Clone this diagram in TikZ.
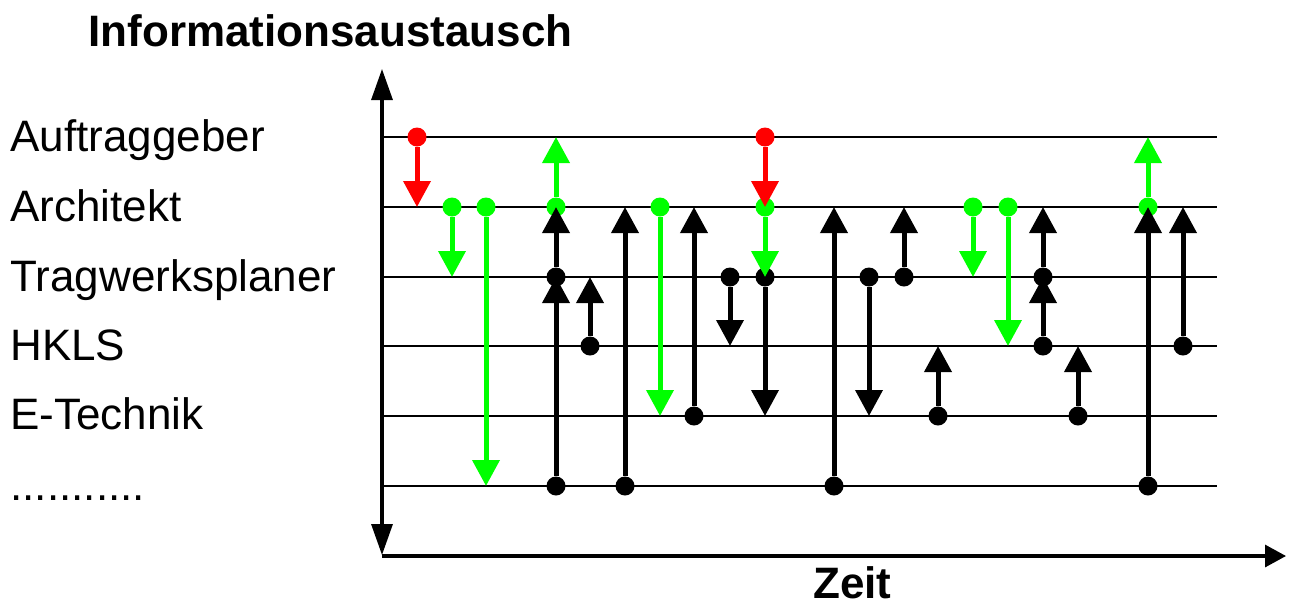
\documentclass[tikz,border=0pt]{standalone}
\usepackage{fontspec}
\setmainfont{Liberation Sans}
\usetikzlibrary{arrows.meta}
\definecolor{msggreen}{RGB}{0,255,0}
\definecolor{msgred}{RGB}{255,0,0}

\begin{document}
\begin{tikzpicture}[x=0.5pt,y=-0.5pt,
    lane/.style={line width=1pt},
    axis/.style={line width=1.6pt},
    party/.style={anchor=base west,inner sep=0pt,font=\fontsize{22}{26}\selectfont},
    heading/.style={anchor=base west,inner sep=0pt,font=\fontsize{22}{26}\selectfont\bfseries},
    sender/.style={circle,fill=#1,inner sep=0pt,minimum size=9.5pt},
    sender/.default=black,
    msg/.style={draw=#1,line width=2.5pt,-{Triangle[width=13.3pt,length=13pt]}},
    msg/.default=black]
    \useasboundingbox (0,0) rectangle (1289,606);

    % lanes
    \coordinate (L1) at (383,137);
    \coordinate (L2) at (383,207);
    \coordinate (L3) at (383,277);
    \coordinate (L4) at (383,346);
    \coordinate (L5) at (383,416);
    \coordinate (L6) at (383,486);
    \draw[lane] (L1) -- (1217,0 |- L1);
    \draw[lane] (L2) -- (1217,0 |- L2);
    \draw[lane] (L3) -- (1217,0 |- L3);
    \draw[lane] (L4) -- (1217,0 |- L4);
    \draw[lane] (L5) -- (1217,0 |- L5);
    \draw[lane] (L6) -- (1217,0 |- L6);

    \node[party] (auftraggeber) at (10,151) {Auftraggeber};
    \node[party] (architekt) at (10,221) {Architekt};
    \node[party] (tragwerk) at (10,291) {Tragwerksplaner};
    \node[party] (hkls) at (10,360) {HKLS};
    \node[party] (etechnik) at (10,429) {E-Technik};
    \node[party] (weitere) at (10,500) {...........};

    % axes
    \coordinate (origin) at (382,556);
    \coordinate (ytop) at (382,69);
    \coordinate (ybot) at (382,555);
    \coordinate (xend) at (1286,556);
    \draw[axis,{Triangle[width=10.5pt,length=15.5pt]}-{Triangle[width=10.5pt,length=15.5pt]}] (ybot) -- (ytop);
    \draw[axis,-{Triangle[width=11pt,length=10.5pt]}] (origin) -- (xend);
    \node[heading] (yname) at (88,46) {Informationsaustausch};
    \node[heading] (xname) at (813,598) {Zeit};

    % senders
    \node[sender=msgred] (m1) at (417,0 |- L1) {};
    \node[sender=msggreen] (m2) at (452,0 |- L2) {};
    \node[sender=msggreen] (m3) at (486,0 |- L2) {};
    \node[sender=msggreen] (m4a) at (556,0 |- L2) {};
    \node[sender] (m4b) at (556,0 |- L3) {};
    \node[sender] (m4c) at (556,0 |- L6) {};
    \node[sender] (m5) at (590,0 |- L4) {};
    \node[sender] (m6) at (625,0 |- L6) {};
    \node[sender=msggreen] (m7) at (660,0 |- L2) {};
    \node[sender] (m8) at (694,0 |- L5) {};
    \node[sender] (m9) at (730,0 |- L3) {};
    \node[sender] (m10c) at (765,0 |- L3) {};
    \node[sender=msggreen] (m10b) at (765,0 |- L2) {};
    \node[sender=msgred] (m10a) at (765,0 |- L1) {};
    \node[sender] (m11) at (834,0 |- L6) {};
    \node[sender] (m12) at (869,0 |- L3) {};
    \node[sender] (m13) at (904,0 |- L3) {};
    \node[sender] (m14) at (938,0 |- L5) {};
    \node[sender=msggreen] (m15) at (973,0 |- L2) {};
    \node[sender=msggreen] (m16) at (1008,0 |- L2) {};
    \node[sender] (m17a) at (1043,0 |- L3) {};
    \node[sender] (m17b) at (1043,0 |- L4) {};
    \node[sender] (m18) at (1078,0 |- L5) {};
    \node[sender=msggreen] (m19a) at (1148,0 |- L2) {};
    \node[sender] (m19b) at (1148,0 |- L6) {};
    \node[sender] (m20) at (1183,0 |- L4) {};

    % messages
    \draw[msg=msgred] (m1) -- (m1 |- L2);
    \draw[msg=msggreen] (m2) -- (m2 |- L3);
    \draw[msg=msggreen] (m3) -- (m3 |- L6);
    \draw[msg=msggreen] (m4a) -- (m4a |- L1);
    \draw[msg] (m4b) -- (m4b |- L2);
    \draw[msg] (m4c) -- (m4c |- L3);
    \draw[msg] (m5) -- (m5 |- L3);
    \draw[msg] (m6) -- (m6 |- L2);
    \draw[msg=msggreen] (m7) -- (m7 |- L5);
    \draw[msg] (m8) -- (m8 |- L2);
    \draw[msg] (m9) -- (m9 |- L4);
    \draw[msg] (m10c) -- (m10c |- L5);
    \draw[msg=msggreen] (m10b) -- (m10b |- L3);
    \draw[msg=msgred] (m10a) -- (m10a |- L2);
    \draw[msg] (m11) -- (m11 |- L2);
    \draw[msg] (m12) -- (m12 |- L5);
    \draw[msg] (m13) -- (m13 |- L2);
    \draw[msg] (m14) -- (m14 |- L4);
    \draw[msg=msggreen] (m15) -- (m15 |- L3);
    \draw[msg=msggreen] (m16) -- (m16 |- L4);
    \draw[msg] (m17a) -- (m17a |- L2);
    \draw[msg] (m17b) -- (m17b |- L3);
    \draw[msg] (m18) -- (m18 |- L4);
    \draw[msg=msggreen] (m19a) -- (m19a |- L1);
    \draw[msg] (m19b) -- (m19b |- L2);
    \draw[msg] (m20) -- (m20 |- L2);
\end{tikzpicture}
\end{document}
